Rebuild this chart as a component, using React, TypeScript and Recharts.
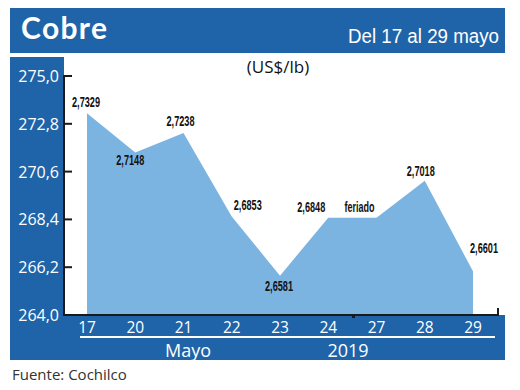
import React from 'react';
import { AreaChart, Area, XAxis, YAxis, LabelList } from 'recharts';

// ---- data ----
const days: string[] = ['17', '20', '21', '22', '23', '24', '27', '28', '29'];
const prices: number[] = [273.29, 271.48, 272.38, 268.53, 265.81, 268.48, 268.48, 270.18, 266.01];
const priceLabels: string[] = ['2,7329', '2,7148', '2,7238', '2,6853', '2,6581', '2,6848', 'feriado', '2,7018', '2,6601'];
const yTicks: number[] = [264.0, 266.2, 268.4, 270.6, 272.8, 275.0];
const titleText = 'Cobre';
const periodText = 'Del 17 al 29 mayo';
const unitText = '(US$/lb)';
const monthText = 'Mayo';
const yearText = '2019';
const sourceText = 'Fuente: Cochilco';

// ---- styles ----
const BLUE = '#1f64a8';
const AREA = '#7cb4e1';
const labelOffsets: [number, number][] = [
  [-1, -11], [-5, 8], [-3, -12], [16, -12], [-1, 10], [-17, -11], [-17, -11], [-4, -10], [11, -23],
];

const data = days.map((d, i) => ({ day: d, value: prices[i], label: priceLabels[i] }));

const fmt = (v: number) => v.toFixed(1).replace('.', ',');

const YTick = (props: any) => {
  const { x, y, payload } = props;
  return (
    <g>
      <line x1={x - 1} x2={x + 8} y1={y} y2={y} stroke="#1a1a1a" strokeWidth={2} />
      <text x={x - 5} y={y} textAnchor="end" dominantBaseline="central" fill="#ffffff"
        fontFamily="'Open Sans', sans-serif" fontSize={16}>{fmt(payload.value)}</text>
    </g>
  );
};

const XTick = (props: any) => {
  const { x, y, payload } = props;
  return (
    <text x={x} y={y + 12} textAnchor="middle" dominantBaseline="central" fill="#ffffff"
      fontFamily="'Open Sans', sans-serif" fontSize={15.5}>{payload.value}</text>
  );
};

const PointLabel = (props: any) => {
  const { x, y, index } = props;
  const [dx, dy] = labelOffsets[index] || [0, -10];
  const txt = priceLabels[index];
  const len = txt.length === 7 ? 30 : 28;
  return (
    <text x={x + dx - len / 2} y={y + dy} dominantBaseline="central" fill="#111"
      fontFamily="'Liberation Sans', sans-serif" fontWeight="bold"
      fontSize={14} textLength={len} lengthAdjust="spacingAndGlyphs">{txt}</text>
  );
};

const abs = (l: number, t: number, w: number, h: number, extra: React.CSSProperties = {}): React.CSSProperties => ({
  position: 'absolute', left: l, top: t, width: w, height: h, ...extra,
});

export default function App() {
  return (
    <div style={{ position: 'absolute', left: 0, top: 0, width: 520, height: 390, background: '#fff', overflow: 'hidden' }}>
      {/* bands */}
      <div style={abs(10, 8, 495, 45, { background: BLUE })} />
      <div style={abs(10, 57, 54, 303, { background: BLUE })} />
      <div style={abs(10, 315, 495, 45, { background: BLUE })} />
      <div style={abs(80, 336, 415, 2, { background: '#fff' })} />
      {/* texts */}
      <svg width={520} height={390} style={abs(0, 0, 520, 390)}>
        <text x={21} y={39} fill="#fff" fontFamily="Lato, 'Open Sans', sans-serif" fontWeight={700} fontSize={30}
          textLength={86} lengthAdjust="spacing">{titleText}</text>
        <text x={348} y={43} fill="#fff" fontFamily="'Liberation Sans', sans-serif" fontSize={20}
          textLength={151} lengthAdjust="spacingAndGlyphs">{periodText}</text>
        <text x={278} y={73} fill="#111" textAnchor="middle" fontFamily="'Open Sans', sans-serif" fontSize={17}>{unitText}</text>
        <text x={188} y={357} fill="#fff" textAnchor="middle" fontFamily="'Open Sans', sans-serif" fontSize={18}>{monthText}</text>
        <text x={348} y={357} fill="#fff" textAnchor="middle" fontFamily="'Open Sans', sans-serif" fontSize={18}>{yearText}</text>
        <text x={12} y={380} fill="#333" fontFamily="'Open Sans', sans-serif" fontSize={15}>{sourceText}</text>
      </svg>
      {/* chart */}
      <div style={abs(0, 0, 520, 390)}>
        <AreaChart width={520} height={390} data={data} margin={{ top: 76, right: 22, bottom: 0, left: 10 }}>
          <YAxis type="number" domain={[264, 275]} ticks={yTicks} interval={0} width={54}
            tickSize={0} tickMargin={0} tickLine={false} tick={<YTick />}
            axisLine={{ stroke: '#1a1a1a', strokeWidth: 2 }} allowDataOverflow />
          <XAxis dataKey="day" height={75} padding={{ left: 23, right: 25 }} interval={0}
            tickSize={0} tickMargin={0} tickLine={false} tick={<XTick />}
            axisLine={{ stroke: '#1a1a1a', strokeWidth: 2 }} />
          <Area type="linear" dataKey="value" fill={AREA} fillOpacity={1} stroke="none" isAnimationActive={false}>
            <LabelList dataKey="label" content={<PointLabel />} />
          </Area>
        </AreaChart>
      </div>
      {/* axis end marks */}
      <div style={abs(497, 308, 2, 8, { background: '#1a1a1a' })} />
      <div style={abs(352, 315, 3, 3, { background: '#1a1a1a' })} />
    </div>
  );
}
